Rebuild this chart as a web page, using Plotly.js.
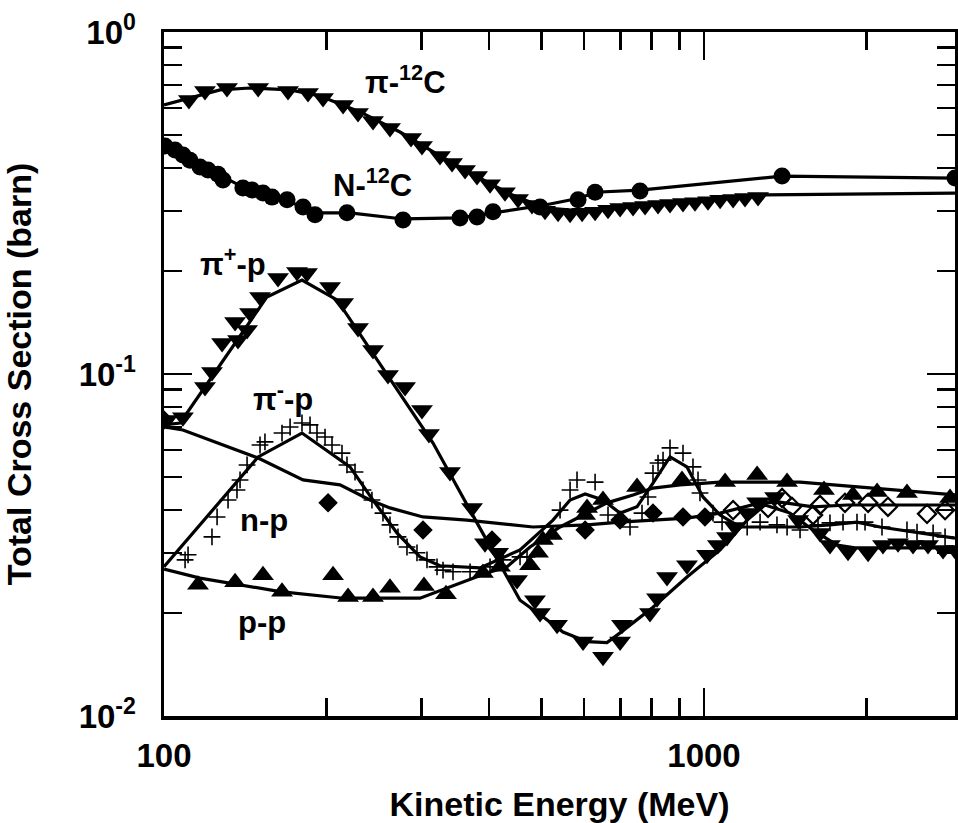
<!DOCTYPE html>
<html>
<head>
<meta charset="utf-8">
<script src="https://cdn.plot.ly/plotly-3.0.1.min.js"></script>
<style>html,body{margin:0;padding:0;background:#fff;}#chart{width:958px;height:823px;}</style>
</head>
<body>
<div id="chart"></div>
<script>
// ---- pi- 12C (data: filled down triangles; curve: solid line) ----
const piC_x = [111.2,119.1,130.8,149.4,169.7,184.8,197.0,214.6,228.7,243.8,262.1,286.7,300.4,324.4,341.5,361.0,379.9,401.6,428.0,452.5,480.2,507.7,536.7,564.9,594.6,628.5,664.1,699.2,738.9,777.7,822.0,865.0,914.3,962.3,1017,1071,1132,1191,1259];
const piC_y = [0.633,0.672,0.686,0.686,0.672,0.663,0.641,0.612,0.580,0.549,0.524,0.490,0.464,0.434,0.414,0.395,0.379,0.359,0.340,0.325,0.312,0.300,0.296,0.294,0.296,0.298,0.302,0.306,0.308,0.310,0.312,0.314,0.316,0.318,0.320,0.323,0.325,0.327,0.329];
const piC_line_x = [100,111.2,127.0,144.3,171.2,194.5,230.7,273.5,324.4,384.8,437.3,507.7,589.5,699.2,983,1297,2916];
const piC_line_y = [0.612,0.641,0.677,0.686,0.677,0.650,0.584,0.510,0.434,0.374,0.336,0.306,0.300,0.310,0.323,0.334,0.338];

// ---- N 12C (filled circles) ----
const NC_x = [100.4,104.8,108.4,111.7,116.6,120.6,125.9,128.6,140.0,145.5,152.5,158.5,169.0,180.9,190.4,218.2,277.1,353.3,379.9,406.7,497.0,584.5,628.5,761.2,1395,2916];
const NC_y = [0.464,0.452,0.437,0.422,0.403,0.395,0.384,0.369,0.350,0.345,0.338,0.329,0.323,0.308,0.292,0.296,0.282,0.286,0.288,0.298,0.308,0.323,0.340,0.343,0.379,0.374];
const NC_line_x = [100,116.6,140.0,171.2,194.5,221.0,277.1,353.3,419.1,507.7,589.5,628.5,761.2,1395,2916];
const NC_line_y = [0.467,0.409,0.352,0.318,0.296,0.296,0.284,0.286,0.298,0.312,0.327,0.340,0.345,0.379,0.374];

// ---- pi+ p (filled down triangles) ----
const pipP_x = [101.3,108.4,119.1,122.7,128.1,135.4,137.1,142.5,144.3,150.6,162.6,176.3,184.0,203.0,214.6,228.7,243.8,259.9,279.5,300.4,309.5,338.5,371.9,393.0,415.6,450.6,486.4,497.0,534.4,597.1,650.1,699.2,704.9,794.3,818.5,854.1,930.0,1013,1061,1103,1141,1202,1254,1354,1494,1640,1711,1848,2013,2145,2287,2438,2599,2771,2916];
const pipP_y = [0.0734,0.0748,0.0916,0.1013,0.1232,0.1419,0.1257,0.1345,0.1508,0.1680,0.1909,0.1987,0.1974,0.1796,0.1613,0.1363,0.1175,0.0993,0.0916,0.0785,0.0668,0.0517,0.0406,0.0320,0.0300,0.0250,0.0218,0.0200,0.0185,0.0165,0.0149,0.0165,0.0185,0.0200,0.0221,0.0255,0.0276,0.0296,0.0316,0.0334,0.0357,0.0392,0.0422,0.0437,0.0374,0.0343,0.0316,0.0302,0.0300,0.0316,0.0320,0.0316,0.0316,0.0306,0.0306];
const pipP_line_x = [100,107.1,155.1,180.1,209.1,314.9,379.9,456.4,503.2,548.2,607.4,661.2,699.2,804.5,930.0,1071,1202,1297,1443,1592,1763,1904,2916];
const pipP_line_y = [0.0710,0.0719,0.1680,0.1883,0.1646,0.0628,0.0367,0.0218,0.0195,0.0176,0.0165,0.0164,0.0175,0.0208,0.0255,0.0306,0.0374,0.0414,0.0392,0.0350,0.0316,0.0310,0.0310];

// ---- pi- p (crosses) ----
const pimP_x = [109.4,110.8,122.7,125.4,131.4,136.5,138.3,142.5,150.6,153.8,165.4,171.2,180.1,186.4,192.0,198.7,204.7,213.6,218.2,225.8,233.6,242.7,254.4,262.1,271.2,281.8,294.1,306.9,320.3,328.6,342.9,368.8,401.6,424.5,456.4,470.2,541.3,564.9,581.9,628.5,664.1,729.4,767.7,787.5,804.5,822.0,839.7,865.0,914.3,954.1,974.8,983,1039,1080,1202,1270,1365,1425,1506,1626,1711,1809,1920,1987,2136,2376,2480,2656,2795];
const pimP_y = [0.0286,0.0296,0.0334,0.0382,0.0428,0.0458,0.0490,0.0542,0.0620,0.0633,0.0672,0.0700,0.0719,0.0710,0.0672,0.0654,0.0620,0.0587,0.0542,0.0517,0.0458,0.0428,0.0392,0.0362,0.0334,0.0312,0.0300,0.0286,0.0273,0.0267,0.0264,0.0264,0.0273,0.0286,0.0292,0.0292,0.0400,0.0458,0.0490,0.0483,0.0387,0.0357,0.0392,0.0437,0.0513,0.0549,0.0560,0.0608,0.0587,0.0535,0.0490,0.0449,0.0392,0.0369,0.0357,0.0369,0.0362,0.0357,0.0350,0.0362,0.0367,0.0369,0.0369,0.0369,0.0357,0.0350,0.0345,0.0343,0.0334];
const pimP_line_x = [100,149.4,180.1,221.0,243.8,270.0,297.9,324.4,384.8,456.4,525.2,564.9,602.3,650.1,699.2,751.5,804.5,865.0,930.0,995.6,1071,1166,1506,1711,1920,2118,2916];
const pimP_line_y = [0.0273,0.0572,0.0672,0.0535,0.0428,0.0343,0.0292,0.0275,0.0271,0.0306,0.0374,0.0428,0.0446,0.0428,0.0392,0.0409,0.0480,0.0572,0.0535,0.0437,0.0387,0.0357,0.0357,0.0362,0.0369,0.0357,0.0331];

// ---- p p (filled up triangles) ----
const pp_x = [115.6,135.4,152.5,165.4,205.6,219.2,243.8,262.1,303.0,332.8,389.6,419.1,476.3,492.7,503.2,523.0,602.3,607.4,650.1,751.5,910.5,1094,1254,1425,1668,1887,2092,2376,2855];
const pp_y = [0.0242,0.0246,0.0258,0.0231,0.0258,0.0223,0.0223,0.0237,0.0240,0.0227,0.0262,0.0273,0.0276,0.0300,0.0327,0.0338,0.0387,0.0406,0.0428,0.0467,0.0490,0.0483,0.0507,0.0483,0.0458,0.0443,0.0452,0.0449,0.0434];
const pp_line_x = [100,116.6,164.0,214.6,297.9,334.2,396.3,431.7,476.3,541.3,607.4,661.2,738.9,804.5,902.7,1071,1506,2307,2916];
const pp_line_y = [0.0269,0.0253,0.0231,0.0221,0.0221,0.0237,0.0262,0.0273,0.0312,0.0357,0.0392,0.0420,0.0443,0.0464,0.0474,0.0483,0.0483,0.0458,0.0443];

// ---- n p (filled diamonds, open diamonds at high energy) ----
const np_x = [100,201.3,301.7,405.0,602.3,699.2,804.5,914.3,1004];
const np_y = [0.0734,0.0420,0.0350,0.0327,0.0350,0.0374,0.0392,0.0382,0.0382];
const npOpen_x = [1132,1314,1395,1455,1592,1640,1824,2013,2191,2588,2795];
const npOpen_y = [0.0400,0.0406,0.0434,0.0409,0.0387,0.0414,0.0420,0.0420,0.0409,0.0390,0.0400];
const np_line_x = [100,108.4,149.4,180.9,211.8,240.7,262.1,301.7,364.0,482.3,607.4,699.2,804.5,930.0,1071,1270,1383,1592,1840,2916];
const np_line_y = [0.0700,0.0686,0.0568,0.0490,0.0474,0.0428,0.0406,0.0382,0.0374,0.0357,0.0362,0.0369,0.0374,0.0379,0.0392,0.0420,0.0422,0.0409,0.0414,0.0414];

// ---- axis ticks ----
const xMajor = [100, 1000];
const xMajorText = ['100', '1000'];
const xMinor = [200,300,400,500,600,700,800,900,2000];
const yMajor = [0.01, 0.1, 1];
const yMajorText = ['10<sup>-2</sup>', '10<sup>-1</sup>', '10<sup>0</sup>'];
const yMinor = [0.02,0.03,0.04,0.05,0.06,0.07,0.08,0.09,0.2,0.3,0.4,0.5,0.6,0.7,0.8,0.9];

const FONT = 'Liberation Sans, Arial, Helvetica, sans-serif';
const K = 'black';
function line(x, y, w) {
  return {x: x, y: y, mode: 'lines', line: {color: K, width: w || 3.2}, hoverinfo: 'skip', showlegend: false};
}
function pts(x, y, symbol, size, lw) {
  return {x: x, y: y, mode: 'markers', showlegend: false,
    marker: {symbol: symbol, size: size, color: K,
             line: {color: K, width: lw === undefined ? 0 : lw}}};
}

const traces = [
  line(piC_line_x, piC_line_y), pts(piC_x, piC_y, 'triangle-down', 19),
  line(NC_line_x, NC_line_y), pts(NC_x, NC_y, 'circle', 17),
  line(pipP_line_x, pipP_line_y), pts(pipP_x, pipP_y, 'triangle-down', 19),
  line(pimP_line_x, pimP_line_y), pts(pimP_x, pimP_y, 'cross-thin-open', 12, 1.6),
  line(pp_line_x, pp_line_y), pts(pp_x, pp_y, 'triangle-up', 19),
  line(np_line_x, np_line_y), pts(np_x, np_y, 'diamond', 15), pts(npOpen_x, npOpen_y, 'diamond-open', 14, 2.2)
];

const annFont = {family: FONT, size: 31, color: K, weight: 'bold'};
function lab(t, x, y) {
  return {text: t, xref: 'paper', yref: 'paper', x: x, y: y, xanchor: 'center', yanchor: 'middle', showarrow: false, font: annFont};
}

const layout = {
  width: 958, height: 823,
  margin: {l: 164, r: 3, t: 32, b: 107},
  paper_bgcolor: '#fff', plot_bgcolor: '#fff',
  showlegend: false,
  xaxis: {
    type: 'log', range: [2, Math.log10(2916)],
    showgrid: false, zeroline: false,
    showline: true, linecolor: K, linewidth: 3.5, mirror: 'ticks',
    ticks: 'inside', ticklen: 28, tickwidth: 2.5, tickcolor: K,
    tickmode: 'array', tickvals: xMajor, ticktext: xMajorText,
    ticklabelstandoff: 8,
    tickfont: {family: FONT, size: 33, color: K, weight: 'bold'},
    minor: {tickmode: 'array', tickvals: xMinor, ticks: 'inside', ticklen: 18, tickwidth: 2.5, tickcolor: K, showgrid: false},
    title: {text: 'Kinetic Energy (MeV)', font: {family: FONT, size: 34, color: K, weight: 'bold'}, standoff: 20}
  },
  yaxis: {
    type: 'log', range: [-2, 0],
    showgrid: false, zeroline: false,
    showline: true, linecolor: K, linewidth: 3.5, mirror: 'ticks',
    ticks: 'inside', ticklen: 28, tickwidth: 2.5, tickcolor: K,
    tickmode: 'array', tickvals: yMajor, ticktext: yMajorText,
    ticklabelstandoff: 18,
    tickfont: {family: FONT, size: 33, color: K, weight: 'bold'},
    minor: {tickmode: 'array', tickvals: yMinor, ticks: 'inside', ticklen: 18, tickwidth: 2.5, tickcolor: K, showgrid: false},
    title: {text: 'Total Cross Section (barn)', font: {family: FONT, size: 34, color: K, weight: 'bold'}, standoff: 40}
  },
  annotations: [
    lab('\u03c0-<sup>12</sup>C', 0.3047, 0.9298),
    lab('N-<sup>12</sup>C', 0.2642, 0.7792),
    lab('\u03c0<sup>+</sup>-p', 0.0872, 0.6637),
    lab('\u03c0<sup>-</sup>-p', 0.1504, 0.4664),
    lab('n-p', 0.1264, 0.2865),
    lab('p-p', 0.1239, 0.1374)
  ]
};

Plotly.newPlot('chart', traces, layout, {displayModeBar: false, staticPlot: true});
</script>
</body>
</html>
